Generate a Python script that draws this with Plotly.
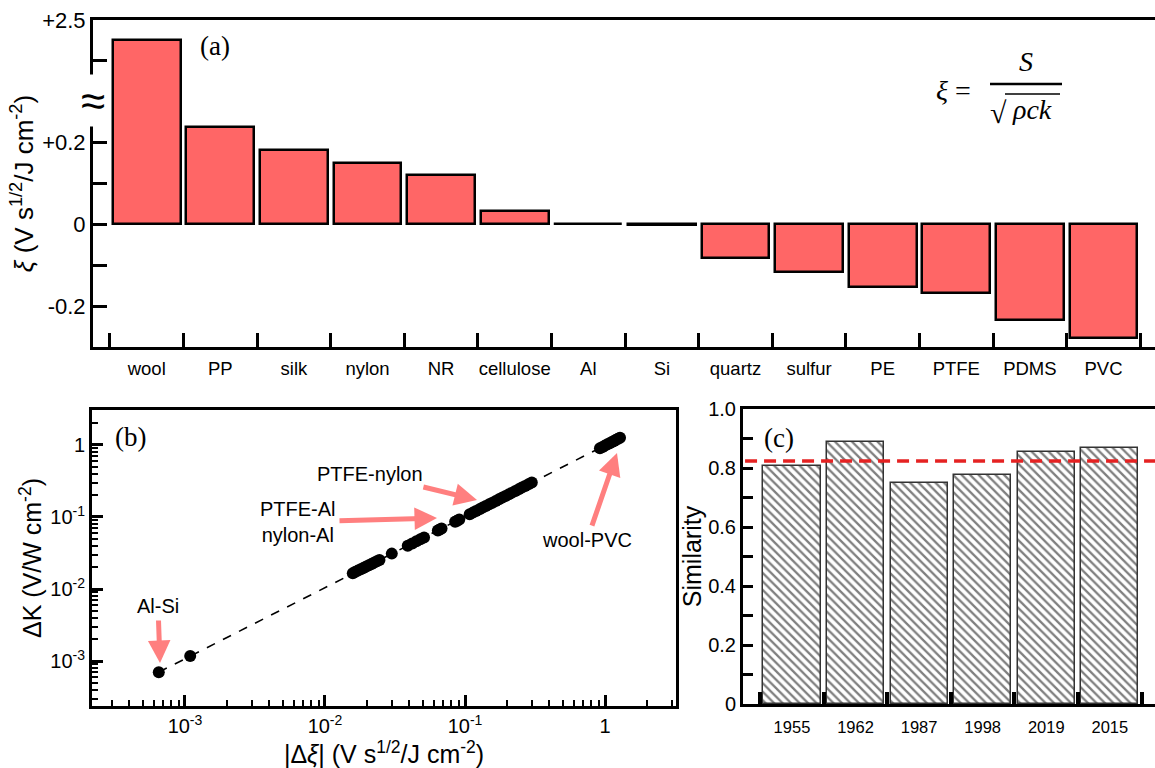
import plotly.graph_objects as go

# ---------------- data ----------------
materials = ["wool", "PP", "silk", "nylon", "NR", "cellulose", "Al", "Si",
             "quartz", "sulfur", "PE", "PTFE", "PDMS", "PVC"]
xi_values = [2.25, 0.239, 0.183, 0.149, 0.120, 0.032, 0.001, -0.001,
             -0.083, -0.117, -0.154, -0.168, -0.234, -0.278]

delta_xi = [0.00065, 0.00109,
            0.0158, 0.0165, 0.0172, 0.0180, 0.0188, 0.0197, 0.0206, 0.0215,
            0.0225, 0.0235, 0.0245,
            0.0300,
            0.039, 0.042, 0.045, 0.048, 0.051,
            0.064, 0.066, 0.068,
            0.085, 0.088, 0.091,
            0.108, 0.114, 0.120, 0.127, 0.134, 0.141, 0.149, 0.157, 0.166,
            0.175, 0.185, 0.195, 0.206, 0.217, 0.229, 0.242, 0.255, 0.269,
            0.284, 0.300,
            0.92, 0.96, 1.00, 1.04, 1.08, 1.12, 1.16, 1.20, 1.24, 1.28]
delta_K = [0.00070, 0.00117,
           0.0166, 0.0173, 0.0180, 0.0188, 0.0196, 0.0205, 0.0214, 0.0223,
           0.0233, 0.0243, 0.0253,
           0.0310,
           0.040, 0.043, 0.046, 0.049, 0.052,
           0.065, 0.067, 0.069,
           0.086, 0.089, 0.092,
           0.109, 0.115, 0.121, 0.128, 0.135, 0.142, 0.150, 0.158, 0.167,
           0.176, 0.186, 0.196, 0.207, 0.218, 0.230, 0.243, 0.256, 0.270,
           0.285, 0.301,
           0.90, 0.94, 0.98, 1.02, 1.06, 1.10, 1.14, 1.18, 1.22, 1.26]
fit_x = [0.00065, 1.25]
fit_y = [0.00070, 1.23]

years = ["1955", "1962", "1987", "1998", "2019", "2015"]
similarity = [0.807, 0.888, 0.749, 0.776, 0.854, 0.868]
similarity_mean = 0.824

a_major_real = [-0.2, 0.0, 0.2, 2.5]
a_major_text = ["-0.2", "0", "+0.2", "+2.5"]
a_minor_real = [-0.1, 0.1, 2.0]


def broken(v):
    # broken y axis of panel (a): linear below 0.3, compressed above the break
    return v if v <= 0.3 else 0.3 + (v - 1.5) / 5.0


W, H = 1155, 768
def px(x):
    return x / W
def py(y):
    return 1 - y / H

FONT = "Arial, Liberation Sans, sans-serif"
SERIF = "Times New Roman, Liberation Serif, serif"
PINK = "#FF7F7F"

fig = go.Figure()

# ---------------- panel (a) ----------------
fig.add_trace(go.Bar(
    x=materials, y=[broken(v) for v in xi_values],
    marker=dict(color="#FF6666", line=dict(color="black", width=2.5)),
    width=0.92, xaxis="x", yaxis="y", showlegend=False))

# ---------------- panel (b) ----------------
fig.add_trace(go.Scatter(
    x=fit_x, y=fit_y, mode="lines",
    line=dict(color="black", width=1.6, dash="dash"),
    xaxis="x2", yaxis="y2", showlegend=False))
fig.add_trace(go.Scatter(
    x=delta_xi, y=delta_K, mode="markers",
    marker=dict(color="black", size=12),
    xaxis="x2", yaxis="y2", showlegend=False))

# ---------------- panel (c) ----------------
fig.add_trace(go.Bar(
    x=years, y=similarity, width=0.9,
    marker=dict(color="white", line=dict(color="#333", width=1.5),
                pattern=dict(shape="\\", fgcolor="black", bgcolor="white",
                             size=6, solidity=0.38)),
    xaxis="x3", yaxis="y3", showlegend=False))

minor_log = [k * 10 ** e for e in (-4, -3, -2, -1, 0) for k in range(2, 10)]


def tf(size):
    return dict(family=FONT, size=size, color="black")


def ax(**kw):
    d = dict(showgrid=False, zeroline=False, linecolor="black", linewidth=3,
             tickcolor="black", automargin=False, showline=True,
             tickfont=tf(20), tickangle=0)
    d.update(kw)
    return d


def ttl(text, standoff, size=25):
    return dict(text=text, font=tf(size), standoff=standoff)


LOGTXT = ["10<sup>-3</sup>", "10<sup>-2</sup>", "10<sup>-1</sup>", "1"]

fig.update_layout(
    width=W, height=H, margin=dict(l=0, r=0, t=0, b=0, autoexpand=False),
    paper_bgcolor="white", plot_bgcolor="white", showlegend=False,
    bargap=0,
    xaxis=ax(domain=[px(93), 1.0], anchor="y", type="category",
             range=[-0.73, 13.7], ticks="inside", tickson="boundaries",
             ticklen=14, tickwidth=3, mirror=True, ticklabelstandoff=3,
             tickfont=tf(18.5)),
    yaxis=ax(domain=[py(347), py(20)], anchor="x", range=[-0.3, 0.5],
             tickmode="array", tickvals=[broken(v) for v in a_major_real],
             ticktext=a_major_text, ticks="inside", ticklen=14, tickwidth=3,
             minor=dict(tickvals=[broken(v) for v in a_minor_real],
                        ticks="inside", ticklen=14, tickwidth=3,
                        tickcolor="black"),
             tickfont=tf(22),
             title=ttl("<i>ξ</i> (V s<sup>1/2</sup>/J cm<sup>-2</sup>)", 2,
                       size=26)),
    xaxis2=ax(domain=[px(92), px(676)], anchor="y2", type="log",
              range=[-3.664, 0.507], tickmode="array",
              tickvals=[1e-3, 1e-2, 1e-1, 1], ticktext=LOGTXT,
              ticks="inside", ticklen=11, tickwidth=2.5, mirror=True,
              minor=dict(tickvals=minor_log, ticks="inside", ticklen=6,
                         tickwidth=2, tickcolor="black"),
              title=ttl("|Δ<i>ξ</i>| (V s<sup>1/2</sup>/J cm<sup>-2</sup>)", 1)),
    yaxis2=ax(domain=[py(706), py(410)], anchor="x2", type="log",
              range=[-3.625, 0.486], tickmode="array",
              tickvals=[1e-3, 1e-2, 1e-1, 1], ticktext=LOGTXT,
              ticks="inside", ticklen=11, tickwidth=2.5, mirror=True,
              minor=dict(tickvals=minor_log, ticks="inside", ticklen=6,
                         tickwidth=2, tickcolor="black"),
              title=ttl("ΔK (V/W cm<sup>-2</sup>)", 2)),
    xaxis3=ax(domain=[px(743), 1.0], anchor="y3", type="category",
              range=[-0.77, 5.71], ticks="inside", tickson="boundaries",
              ticklen=12, tickwidth=4, mirror=True, ticklabelstandoff=6,
              tickfont=tf(16.5)),
    yaxis3=ax(domain=[py(704), py(409)], anchor="x3", range=[0, 1.0],
              tickmode="array", tickvals=[0, 0.2, 0.4, 0.6, 0.8, 1.0],
              ticktext=["0", "0.2", "0.4", "0.6", "0.8", "1.0"],
              ticks="inside", ticklen=10, tickwidth=3,
              minor=dict(tickvals=[0.1, 0.3, 0.5, 0.7, 0.9], ticks="inside",
                         ticklen=10, tickwidth=3, tickcolor="black"),
              title=ttl("Similarity", 0)),
)

# mean similarity line in panel (c)
fig.add_shape(type="line", xref="x3 domain", yref="y3",
              x0=0.005, x1=1.0, y0=similarity_mean, y1=similarity_mean,
              line=dict(color="#E52222", width=3.5, dash="12px,7px"))

annotations = []


def txt(x, y, text, size=20, family=FONT, **kw):
    annotations.append(dict(x=px(x), y=py(y), xref="paper", yref="paper",
                            text=text, showarrow=False,
                            font=dict(family=family, size=size, color="black"),
                            xanchor="center", yanchor="middle", **kw))


def label_arrow(text, tx, ty, cx, cy):
    # text centred at (cx, cy), arrow pointing to (tx, ty)
    annotations.append(dict(x=px(tx), y=py(ty), xref="paper", yref="paper",
                            text=text, showarrow=True,
                            ax=cx - tx, ay=cy - ty,
                            axref="pixel", ayref="pixel",
                            font=tf(20),
                            arrowhead=2, arrowsize=0.9, arrowwidth=5,
                            arrowcolor=PINK, standoff=0, startstandoff=2))


# panel labels
txt(215, 46, "(a)", size=27, family=SERIF)
txt(130, 437, "(b)", size=27, family=SERIF)
txt(779, 438, "(c)", size=27, family=SERIF)

# broken-axis mark
txt(93, 101, "≈", size=44, bgcolor="white")

# formula  xi = S / sqrt(rho c k)
txt(953, 90, "<i>ξ</i> =", size=28, family=SERIF)
txt(1026, 62, "<i>S</i>", size=28, family=SERIF)
txt(998, 113, "√", size=30, family=SERIF)
txt(1032, 110, "<i>ρck</i>", size=28, family=SERIF)

# panel (b) texts and arrows
label_arrow("Al-Si", 160, 663, 158, 606)
label_arrow("PTFE-nylon", 477, 500, 370, 474)
label_arrow("PTFE-Al<br>nylon-Al", 437, 518, 298, 522)
label_arrow("wool-PVC", 617, 453, 587, 540)

fig.update_layout(annotations=annotations)

# fraction bar and radical overline for the formula
fig.add_shape(type="line", xref="paper", yref="paper",
              x0=px(990), x1=px(1062), y0=py(84), y1=py(84),
              line=dict(color="black", width=2.5))
fig.add_shape(type="line", xref="paper", yref="paper",
              x0=px(1005), x1=px(1060), y0=py(94), y1=py(94),
              line=dict(color="black", width=1.5))

fig.write_html("out.html", config={"displayModeBar": False},
               post_script="document.body.style.margin='0px';")
